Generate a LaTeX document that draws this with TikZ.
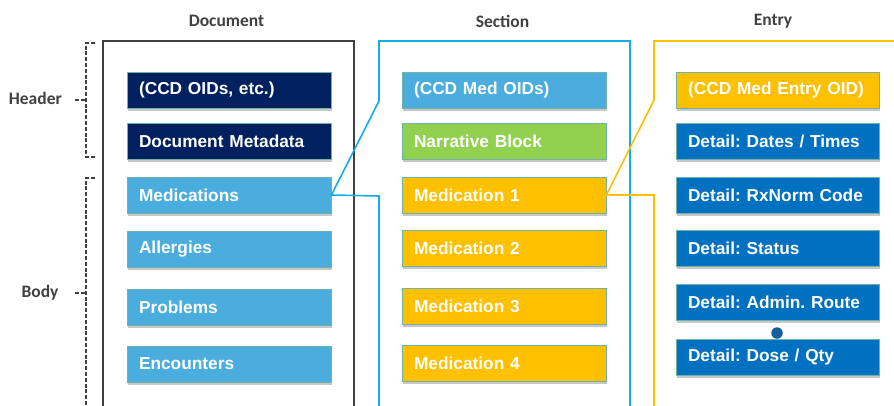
\documentclass[tikz,border=0pt]{standalone}
\usepackage{fontspec}
\setmainfont{Liberation Sans}
\newfontfamily\headfont{Carlito}
\usetikzlibrary{shadows}
\definecolor{navy}{HTML}{002060}
\definecolor{lblue}{HTML}{4BACDE}
\definecolor{lgreen}{HTML}{92D050}
\definecolor{amber}{HTML}{FFC000}
\definecolor{mblue}{HTML}{0070C0}
\definecolor{cyanline}{HTML}{12AEEA}
\definecolor{frameg}{HTML}{404040}
\definecolor{boxedge}{HTML}{6EB3A6}
\definecolor{dotblue}{HTML}{145E9E}
\tikzset{
  box/.style={rectangle, draw=boxedge, line width=0.8pt, text=white,
    font=\fontsize{17.3}{20}\selectfont\bfseries\frenchspacing, text width=#1-24pt,
    inner xsep=12pt, inner ysep=0pt, minimum height=36pt, align=left,
    drop shadow={shadow xshift=1pt, shadow yshift=-2.5pt, fill=black, opacity=0.22}},
  box/.default=204pt,
  colhead/.style={text=frameg, font=\headfont\fontsize{17.5}{20}\selectfont\bfseries, inner sep=0pt},
  sidelabel/.style={text=frameg, font=\headfont\fontsize{17.5}{20}\selectfont\bfseries, inner sep=0pt},
  docframe/.style={draw=frameg, line width=1.5pt},
  secframe/.style={draw=cyanline, line width=1.6pt, line join=miter},
  entframe/.style={draw=amber, line width=1.6pt, line join=miter},
  brace/.style={draw=frameg, line width=1.1pt, dash pattern=on 4pt off 1.8pt},
  dotnode/.style={circle, fill=dotblue, minimum size=11.5pt, inner sep=0pt}
}
\begin{document}
\begin{tikzpicture}[x=1pt, y=-1pt]
\useasboundingbox (0,0) rectangle (894,405);
% column headings
\node[colhead] (hdoc) at (226.5,21) {Document};
\node[colhead] (hsec) at (502.5,21) {Section};
\node[colhead] (hent) at (773,21) {Entry};
% side labels
\node[sidelabel, anchor=east] (lhead) at (62,98) {Header};
\node[sidelabel] (lbody) at (40,293) {Body};
% frames (document)
\draw[docframe] (103,412) -- (103,41) -- (354,41) -- (354,412);
% document boxes
\node[box, fill=navy] (d1) at (229,90) {(CCD OIDs, etc.)};
\node[box, fill=navy] (d2) at (229,141) {Document Metadata};
\node[box, fill=lblue] (d3) at (229,195) {Medications};
\node[box, fill=lblue] (d4) at (229,249) {Allergies};
\node[box, fill=lblue] (d5) at (229,307) {Problems};
\node[box, fill=lblue] (d6) at (229,364) {Encounters};
% section boxes
\node[box, fill=lblue] (s1) at (504,90) {(CCD Med OIDs)};
\node[box, fill=lgreen] (s2) at (504,141) {Narrative Block};
\node[box, fill=amber] (s3) at (504,195) {Medication 1};
\node[box, fill=amber] (s4) at (504,248) {Medication 2};
\node[box, fill=amber] (s5) at (504,306) {Medication 3};
\node[box, fill=amber] (s6) at (504,363.5) {Medication 4};
% entry boxes
\node[box=203pt, fill=amber] (e1) at (777.5,90) {(CCD Med Entry OID)};
\node[box=203pt, fill=mblue] (e2) at (777.5,141) {Detail: Dates / Times};
\node[box=203pt, fill=mblue] (e3) at (777.5,195) {Detail: RxNorm Code};
\node[box=203pt, fill=mblue] (e4) at (777.5,248) {Detail: Status};
\node[box=203pt, fill=mblue] (e5) at (777.5,302) {Detail: Admin. Route};
\node[box=203pt, fill=mblue] (e6) at (777.5,357) {Detail: Dose / Qty};
\node[dotnode] (dot) at (777,333) {};
% section frame with callout to Medications
\draw[secframe] (379,412) -- (379,196) -- (d3.east) -- (379,101) -- (379,41) -- (630,41) -- (630,412);
% entry frame with callout to Medication 1
\draw[entframe] (654,412) -- (654,195) -- (s3.east) -- (654,100) -- (654,41) -- (900,41);
% braces
\draw[brace] (95,43) -- (86,43) -- (86,157) -- (95,157);
\draw[brace] (75,100) -- (86,100);
\draw[brace] (95,178) -- (86,178) -- (86,412);
\draw[brace] (75,293) -- (86,293);
\end{tikzpicture}
\end{document}
